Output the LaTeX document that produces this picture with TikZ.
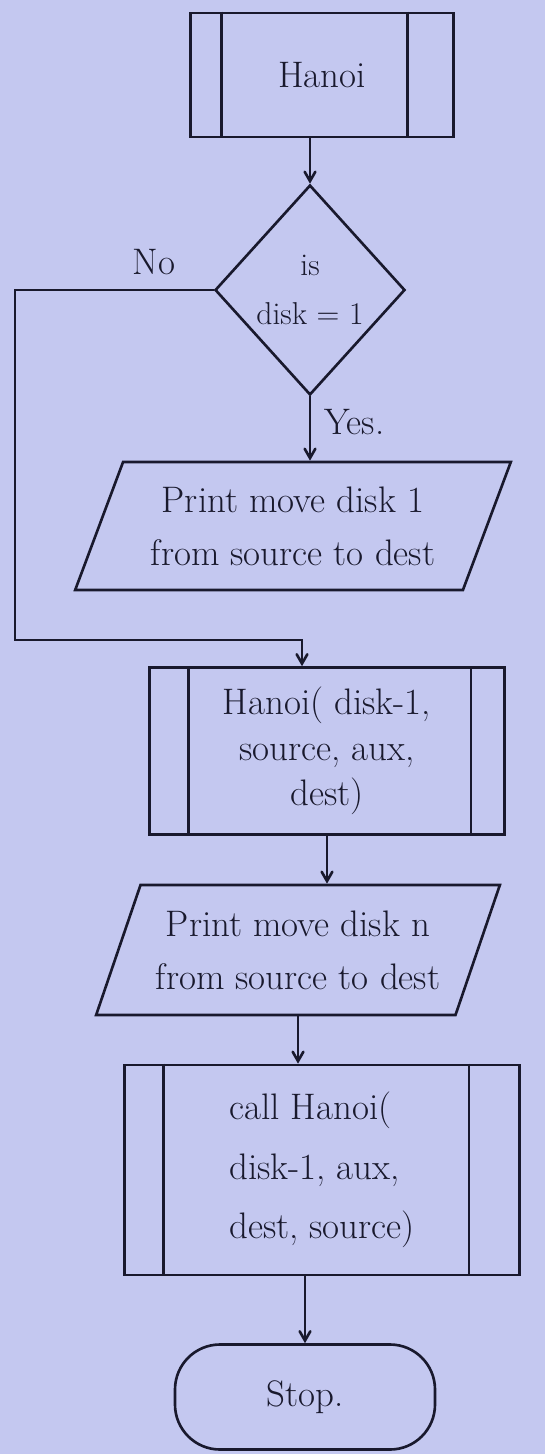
\documentclass[tikz,border=0pt]{standalone}
\usepackage{tikz}
\usetikzlibrary{arrows,shapes.geometric}
\definecolor{paper}{RGB}{196,200,240}
\definecolor{ink}{RGB}{25,25,45}

\begin{document}
\begin{tikzpicture}[>=angle 60, color=ink, font=\fontsize{21}{30}\selectfont]
\tikzstyle{every path}=[line width=1.5pt];
\tikzstyle{subproc}=[draw, rectangle, inner sep=0pt];
\tikzstyle{decide}=[draw, diamond, inner sep=0pt, aspect=0.9, font=\fontsize{18}{28}\selectfont];
\tikzstyle{io}=[draw, trapezium, trapezium left angle=63, trapezium right angle=117, trapezium stretches=true, inner sep=0pt];
\tikzstyle{term}=[draw, rectangle, rounded corners=0.9cm];
\fill[paper] (0,0) rectangle (10.9,-29.08);
\useasboundingbox (0,0) rectangle (10.9,-29.08);
\path (6.44,-1.5) node[subproc, minimum width=5.26cm, minimum height=2.48cm] (hanoi) {Hanoi};
\path (6.2,-5.8) node[decide, minimum width=3.8cm, minimum height=4.2cm, align=center] (dia) {is\\disk = 1};
\path (5.86,-10.52) node[io, minimum width=8.74cm, minimum height=2.56cm, align=center] (prt1) {Print move disk 1\\from source to dest};
\path (6.54,-15.02) node[subproc, minimum width=7.1cm, minimum height=3.34cm, align=center, font=\fontsize{21}{26}\selectfont] (rec1) {Hanoi( disk-1,\\source, aux,\\dest)};
\path (5.96,-19.0) node[io, minimum width=8.1cm, minimum height=2.6cm, align=center] (prt2) {Print move disk n\\from source to dest};
\path (6.44,-23.4) node[subproc, minimum width=7.9cm, minimum height=4.2cm, align=left, font=\fontsize{21}{34}\selectfont] (rec2) {call Hanoi(\\disk-1, aux,\\dest, source)};
\path (6.1,-27.94) node[term, minimum width=5.2cm, minimum height=2.1cm] (stop) {Stop.};
% side bars of the process boxes
\draw ([xshift=0.65cm]hanoi.north west) -- ([xshift=0.65cm]hanoi.south west);
\draw ([xshift=-0.95cm]hanoi.north east) -- ([xshift=-0.95cm]hanoi.south east);
\draw ([xshift=0.8cm]rec1.north west) -- ([xshift=0.8cm]rec1.south west);
\draw ([xshift=-0.7cm]rec1.north east) -- ([xshift=-0.7cm]rec1.south east);
\draw ([xshift=0.8cm]rec2.north west) -- ([xshift=0.8cm]rec2.south west);
\draw ([xshift=-1.04cm]rec2.north east) -- ([xshift=-1.04cm]rec2.south east);
% flow
\coordinate (noleft) at (0.3,-12.8);
\path[->] (dia.north |- hanoi.south) edge (dia.north);
\path[->] (dia.south) edge node[right, pos=0.4, xshift=4pt] (yes) {Yes.} (dia.south |- prt1.north);
\draw[->] (dia.west) -| (noleft) -| ([xshift=-0.5cm]rec1.north);
\path (dia.west) ++(-1.2,0.56) node (no) {No};
\path[->] (rec1.south) edge (rec1.south |- prt2.north);
\path[->] (prt2.south) edge (prt2.south |- rec2.north);
\path[->] (stop.north |- rec2.south) edge (stop.north);
\end{tikzpicture}
\end{document}
